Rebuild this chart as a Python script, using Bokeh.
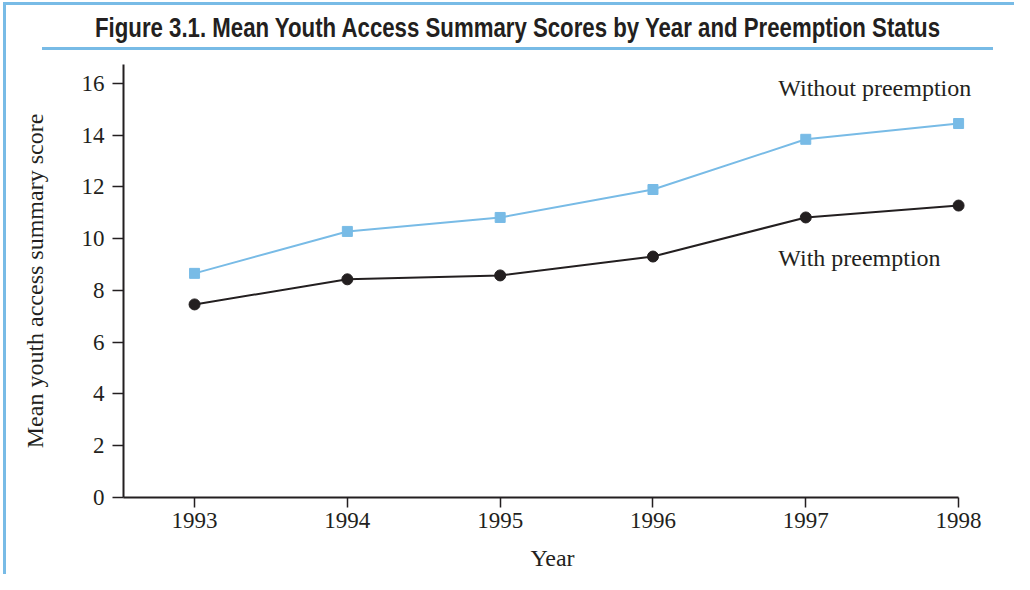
from bokeh.plotting import figure
from bokeh.models import Label, FixedTicker, Range1d, Div
from bokeh.layouts import column
from bokeh.embed import file_html
from bokeh.resources import INLINE

years = [1993, 1994, 1995, 1996, 1997, 1998]
without_preemption = [8.66, 10.28, 10.82, 11.90, 13.84, 14.45]
with_preemption = [7.46, 8.43, 8.58, 9.31, 10.82, 11.28]
y_ticks = [0, 2, 4, 6, 8, 10, 12, 14, 16]
title_text = "Figure 3.1. Mean Youth Access Summary Scores by Year and Preemption Status"
series_names = ["Without preemption", "With preemption"]

BLUE = "#78bbe6"
INK = "#231f20"
SERIF = "Liberation Serif"
W, H_HEAD, H_FIG = 1014, 56, 518

SX = 0.789  # horizontal condensing of the bold sans title
header_svg = (
    f'<svg width="{W}" height="{H_HEAD}" xmlns="http://www.w3.org/2000/svg" style="display:block">'
    f'<rect x="3" y="2" width="{W-3}" height="3" fill="{BLUE}"/>'
    f'<rect x="3" y="2" width="3" height="{H_HEAD-2}" fill="{BLUE}"/>'
    f'<rect x="42" y="47" width="951" height="3" fill="{BLUE}"/>'
    f'<text x="{517.5/SX:.1f}" y="37" transform="scale({SX},1)" text-anchor="middle" '
    f'textLength="{845/SX:.1f}" lengthAdjust="spacingAndGlyphs" '
    f'font-family="Liberation Sans, Arial, sans-serif" font-weight="bold" font-size="28" fill="{INK}">'
    f'{title_text}</text></svg>'
)
header = Div(text=header_svg, width=W, height=H_HEAD, margin=0)

p = figure(width=W, height=H_FIG, output_backend="svg", toolbar_location=None,
           x_range=Range1d(1992.535, 1998.15), y_range=Range1d(0, 16.73),
           min_border_left=123, min_border_right=33, min_border_top=8, min_border_bottom=77,
           margin=0)
p.outline_line_color = None
p.border_fill_color = None
p.background_fill_color = None
p.styles = {
    "background-image": f"linear-gradient({BLUE}, {BLUE})",
    "background-repeat": "no-repeat",
    "background-position": "3px 0px",
    "background-size": "3px 100%",
}
p.xgrid.visible = False
p.ygrid.visible = False

p.line(years, without_preemption, line_color=BLUE, line_width=2)
p.scatter(years, without_preemption, marker="square", size=10, fill_color=BLUE, line_color=BLUE)
p.line(years, with_preemption, line_color=INK, line_width=2)
p.scatter(years, with_preemption, marker="circle", size=11, fill_color=INK, line_color=INK)

for ax in (p.xaxis[0], p.yaxis[0]):
    ax.axis_line_color = INK
    ax.axis_line_width = 2
    ax.major_tick_line_color = INK
    ax.major_tick_line_width = 1.5
    ax.major_tick_in = 0
    ax.minor_tick_line_color = None
    ax.major_label_text_font = SERIF
    ax.major_label_text_font_size = "23px"
    ax.major_label_text_color = INK
    ax.axis_label_text_font = SERIF
    ax.axis_label_text_font_size = "24px"
    ax.axis_label_text_font_style = "normal"
    ax.axis_label_text_color = INK

p.xaxis.ticker = FixedTicker(ticks=years)
p.xaxis.bounds = (1992.535, 1998)
p.xaxis.major_tick_out = 10
p.xaxis.major_label_standoff = 5
p.xaxis.axis_label = "Year"
p.xaxis.axis_label_standoff = 14

p.yaxis.ticker = FixedTicker(ticks=y_ticks)
p.yaxis.major_tick_out = 11
p.yaxis.major_label_standoff = 8
p.yaxis.axis_label = "Mean youth access summary score"
p.yaxis.axis_label_standoff = 31

p.add_layout(Label(x=1996.82, y=15.81, text=series_names[0], text_font=SERIF,
                   text_font_size="24px", text_color=INK, text_baseline="middle"))
p.add_layout(Label(x=1996.82, y=9.27, text=series_names[1], text_font=SERIF,
                   text_font_size="24px", text_color=INK, text_baseline="middle"))

layout = column(header, p, spacing=0, margin=0)
open("out.html", "w").write(file_html(layout, INLINE))
